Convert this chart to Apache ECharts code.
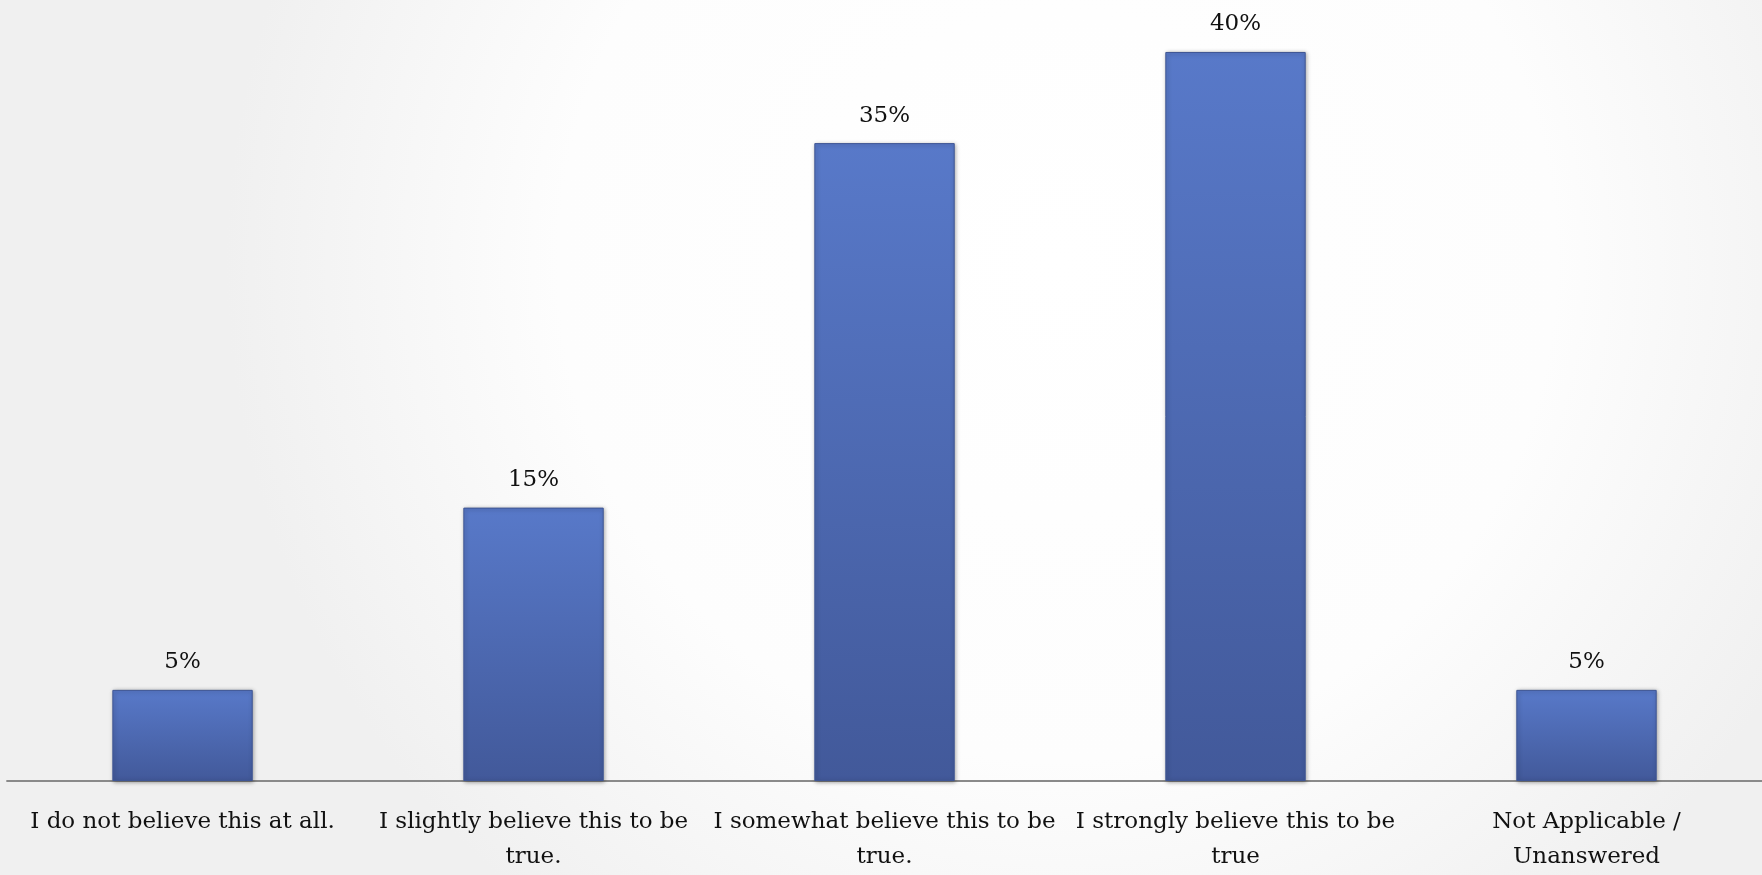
<!DOCTYPE html>
<html>
<head>
<meta charset="utf-8">
<script src="https://cdn.jsdelivr.net/npm/echarts@6/dist/echarts.min.js"></script>
<style>
html,body{margin:0;padding:0;overflow:hidden;width:100%;height:100%;}
#chart{width:100vw;height:100vh;}
</style>
</head>
<body>
<div id="chart"></div>
<script>
const categories = [
  "I do not believe this at all.",
  "I slightly believe this to be\ntrue.",
  "I somewhat believe this to be\ntrue.",
  "I strongly believe this to be\ntrue",
  "Not Applicable /\nUnanswered"
];
const values = [5, 15, 35, 40, 5];

const chart = echarts.init(document.getElementById('chart'));
chart.setOption({
  backgroundColor: new echarts.graphic.RadialGradient(0.6, 0.3, 0.95, [
    {offset: 0, color: '#ffffff'},
    {offset: 0.6, color: '#fdfdfd'},
    {offset: 1, color: '#f0f0f0'}
  ]),
  grid: {left: '0.4%', width: '99.89%', top: '5.94%', height: '83.83%', containLabel: false},
  xAxis: {
    type: 'category',
    data: categories,
    axisLine: {show: true, lineStyle: {color: '#8a8a8a', width: 2}},
    axisTick: {show: false},
    axisLabel: {
      interval: 0,
      margin: 24,
      color: '#111',
      fontFamily: 'DejaVu Serif',
      fontSize: 23,
      lineHeight: 35
    }
  },
  yAxis: {
    type: 'value',
    min: 0, max: 40,
    show: false,
    splitLine: {show: false}
  },
  series: [{
    type: 'bar',
    data: values,
    barWidth: '40%',
    itemStyle: {
      color: new echarts.graphic.LinearGradient(0, 0, 0, 1, [
        {offset: 0, color: '#5879c9'},
        {offset: 1, color: '#42599a'}
      ]),
      borderColor: '#3f5694',
      borderWidth: 1,
      shadowColor: 'rgba(0,0,0,0.35)',
      shadowBlur: 4,
      shadowOffsetX: 1,
      shadowOffsetY: 1
    },
    label: {
      show: true,
      position: 'top',
      distance: 16,
      formatter: '{c}%',
      color: '#111',
      fontFamily: 'DejaVu Serif',
      fontSize: 23
    }
  }]
});
window.addEventListener('resize', () => chart.resize());
</script>
</body>
</html>
